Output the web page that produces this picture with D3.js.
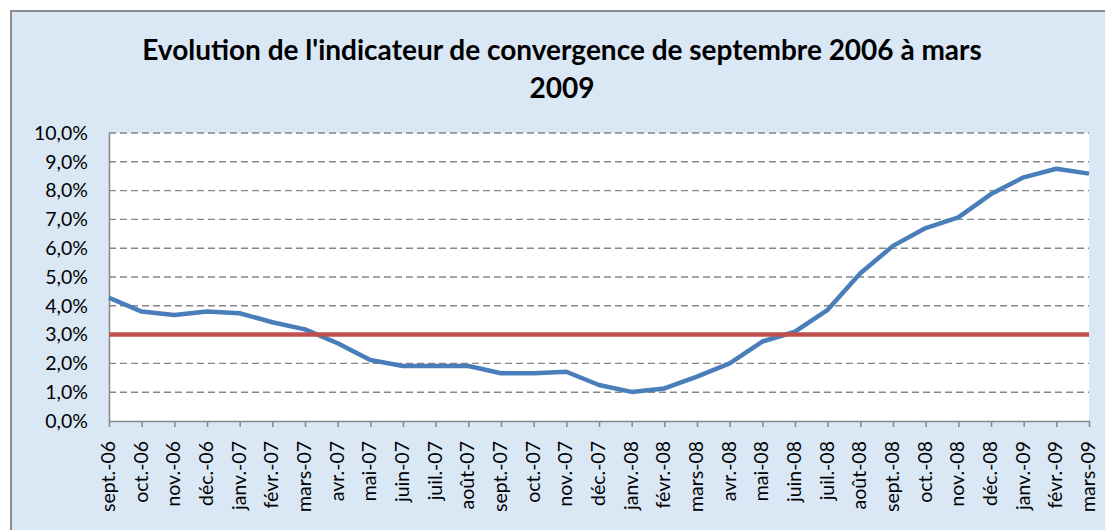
<!DOCTYPE html>
<html>
<head>
<meta charset="utf-8">
<script src="https://cdn.jsdelivr.net/npm/d3@7"></script>
<style>
	html, body { margin: 0; padding: 0; background: #fff; overflow: hidden; }
	#chart-container { width: 1105px; height: 530px; }
	#chart-container svg { display: block; }
	text { font-family: Lato, 'Open Sans', sans-serif; fill: #000; }
</style>
</head>
<body>
<div id="chart-container"></div>
<script>
const months = ['sept.-06', 'oct.-06', 'nov.-06', 'déc.-06', 'janv.-07', 'févr.-07', 'mars-07', 'avr.-07',
	'mai-07', 'juin-07', 'juil.-07', 'août-07', 'sept.-07', 'oct.-07', 'nov.-07', 'déc.-07', 'janv.-08',
	'févr.-08', 'mars-08', 'avr.-08', 'mai-08', 'juin-08', 'juil.-08', 'août-08', 'sept.-08', 'oct.-08',
	'nov.-08', 'déc.-08', 'janv.-09', 'févr.-09', 'mars-09'];

const indicateur = [4.28, 3.80, 3.68, 3.80, 3.74, 3.43, 3.18, 2.70, 2.12, 1.91, 1.91, 1.91, 1.66, 1.66,
	1.71, 1.25, 1.01, 1.13, 1.54, 2.00, 2.76, 3.10, 3.86, 5.13, 6.08, 6.70, 7.07, 7.88, 8.46, 8.76, 8.59];

const seuil = 3.0;

const yTicks = [0, 1, 2, 3, 4, 5, 6, 7, 8, 9, 10];

const titleLines = ["Evolution de l'indicateur de convergence de septembre 2006 à mars", '2009'];

const width = 1105;
const height = 530;
const margin = {top: 133, right: 16, bottom: 109, left: 109};
const innerWidth = width - margin.left - margin.right;
const innerHeight = height - margin.top - margin.bottom;

const frFormat = d3.formatLocale({decimal: ',', thousands: ' ', grouping: [3], currency: ['', ' €']}).format('.1f');

const root = d3.select('#chart-container').append('svg')
	.attr('width', width)
	.attr('height', height);

const bg = root.append('g').attr('class', 'background');

bg.append('rect')
	.attr('x', 10).attr('y', 10)
	.attr('width', width - 10).attr('height', height - 10)
	.attr('fill', '#dae7f5');

bg.append('path')
	.attr('d', `M11,${height}V11H${width}`)
	.attr('fill', 'none')
	.attr('stroke', '#8c8c8c')
	.attr('stroke-width', 2);

root.append('g')
	.attr('class', 'title')
	.selectAll('text')
	.data(titleLines)
	.enter()
	.append('text')
	.attr('x', 562)
	.attr('y', (d, i) => 60 + i * 38)
	.attr('text-anchor', 'middle')
	.style('font-size', '28px')
	.style('font-weight', 'bold')
	.text(d => d);

const svg = root.append('g')
	.attr('transform', `translate(${margin.left}, ${margin.top})`);

const xScale = d3.scalePoint()
	.domain(months)
	.range([0, innerWidth]);

const yScale = d3.scaleLinear()
	.domain([0, 10])
	.range([innerHeight, 0]);

svg.append('rect')
	.attr('width', innerWidth)
	.attr('height', innerHeight)
	.attr('fill', '#fff');

svg.append('g')
	.attr('class', 'grid')
	.selectAll('line')
	.data(yTicks.filter(d => d > 0))
	.enter()
	.append('line')
	.attr('x1', 0)
	.attr('x2', innerWidth)
	.attr('y1', d => yScale(d))
	.attr('y2', d => yScale(d))
	.attr('stroke', '#878787')
	.attr('stroke-width', 1.4)
	.attr('stroke-dasharray', '7,4');

const xAxis = d3.axisBottom(xScale)
	.tickSize(6)
	.tickSizeOuter(0)
	.tickFormat('');

const yAxis = d3.axisLeft(yScale)
	.tickValues(yTicks)
	.tickSize(0)
	.tickPadding(21)
	.tickFormat(d => frFormat(d) + '%');

svg.append('g')
	.attr('class', 'x axis')
	.attr('transform', `translate(0, ${innerHeight})`)
	.call(xAxis)
	.selectAll('text').remove();

// month labels, read bottom to top
root.append('g')
	.attr('class', 'x-labels')
	.selectAll('text')
	.data(months)
	.enter()
	.append('text')
	.attr('transform', d => `translate(${margin.left + xScale(d) + 6}, ${margin.top + innerHeight + 20}) rotate(-90)`)
	.attr('text-anchor', 'end')
	.attr('font-size', 19.5)
	.style('font-size', '19.5px')
	.text(d => d);

const gy = svg.append('g')
	.attr('class', 'y axis')
	.call(yAxis);

gy.selectAll('text')
	.attr('font-size', 19.5)
	.style('font-size', '19.5px');

svg.selectAll('.axis path, .axis line')
	.attr('stroke', '#868686')
	.attr('stroke-width', 1.5);

svg.selectAll('.axis text')
	.attr('fill', '#000')
	.style('font-family', 'Lato, sans-serif');

const line = d3.line()
	.x((d, i) => xScale(months[i]))
	.y(d => yScale(d));

svg.append('path')
	.datum(indicateur)
	.attr('class', 'indicateur')
	.attr('d', line)
	.attr('fill', 'none')
	.attr('stroke', '#4a7ebb')
	.attr('stroke-width', 4.5)
	.attr('stroke-linejoin', 'round');

svg.append('line')
	.attr('class', 'seuil')
	.attr('x1', xScale(months[0]))
	.attr('x2', xScale(months[months.length - 1]))
	.attr('y1', yScale(seuil))
	.attr('y2', yScale(seuil))
	.attr('stroke', '#c0504d')
	.attr('stroke-width', 4.5);
</script>
</body>
</html>
